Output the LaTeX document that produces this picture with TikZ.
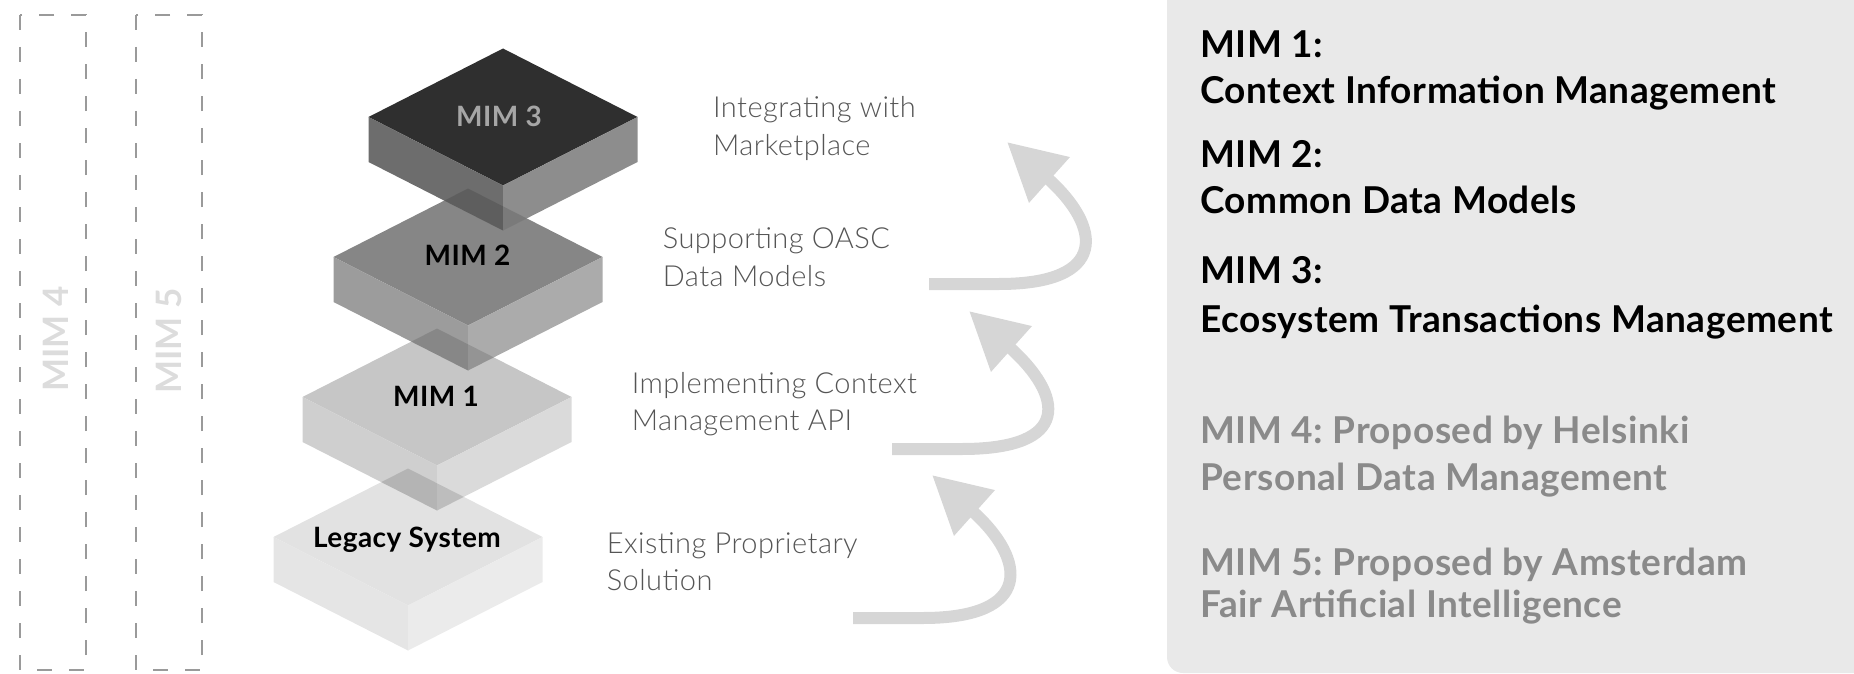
\documentclass[tikz,border=0pt]{standalone}
\usepackage{fontspec}
\setmainfont{Lato}
\newfontfamily\lightfont{Lato Light}[LetterSpace=1.5]
\newfontfamily\widefont{Lato}[LetterSpace=1.5]
\usetikzlibrary{arrows.meta,calc}
\definecolor{panelgray}{HTML}{E9E9E9}
\definecolor{dashgray}{HTML}{9A9A9A}
\definecolor{ghost}{HTML}{DCDCDC}
\definecolor{arrgray}{HTML}{D6D6D6}
\definecolor{lighttext}{HTML}{555555}
\definecolor{proposed}{HTML}{8A8A8A}
\definecolor{mthreetop}{HTML}{2F2F2F}
\definecolor{mthreeleft}{HTML}{6D6D6D}
\definecolor{mthreeright}{HTML}{8D8D8D}
\definecolor{mtwotop}{HTML}{868686}
\definecolor{mtwoleft}{HTML}{9C9C9C}
\definecolor{mtworight}{HTML}{ABABAB}
\definecolor{monetop}{HTML}{C6C6C6}
\definecolor{moneleft}{HTML}{CFCFCF}
\definecolor{moneright}{HTML}{DADADA}
\definecolor{legtop}{HTML}{E2E2E2}
\definecolor{legleft}{HTML}{E5E5E5}
\definecolor{legright}{HTML}{EBEBEB}
\newcommand{\slabfaces}[5]{%
  \fill[#3] (#1,#2-68.5) -- (#1+134.5,#2) -- (#1,#2+68.5) -- (#1-134.5,#2) -- cycle;
  \fill[#4] (#1-134.5,#2) -- (#1,#2+68.5) -- (#1,#2+113.5) -- (#1-134.5,#2+45) -- cycle;
  \fill[#5] (#1,#2+68.5) -- (#1+134.5,#2) -- (#1+134.5,#2+45) -- (#1,#2+113.5) -- cycle;
}
% darken the part of the lower top face seen through the upper slab's sides
\newcommand{\slabshadow}[4]{%
  \begin{scope}
    \clip (#1-134.5,#2) -- (#1,#2+68.5) -- (#1+134.5,#2) -- (#1+134.5,#2+45) -- (#1,#2+113.5) -- (#1-134.5,#2+45) -- cycle;
    \fill[black,opacity=.13] (#3,#4-68.5) -- (#3+134.5,#4) -- (#3,#4+68.5) -- (#3-134.5,#4) -- cycle;
  \end{scope}
}
\frenchspacing
\begin{document}
\begin{tikzpicture}[x=1pt,y=-1pt,
  dashbox/.style={draw=dashgray,line width=2.7pt,dash pattern=on 15pt off 17pt},
  ghostlbl/.style={font=\bfseries\fontsize{35}{42}\selectfont,text=ghost,rotate=90,inner sep=0},
  slablbl/.style={font=\widefont\bfseries\fontsize{28}{34}\selectfont,anchor=base,inner sep=0},
  steplbl/.style={font=\lightfont\fontsize{29}{35}\selectfont,text=lighttext,anchor=base west,inner sep=0},
  panlbl/.style={font=\widefont\bfseries\fontsize{37}{44}\selectfont,anchor=base west,inner sep=0},
  proplbl/.style={panlbl,text=proposed},
  arr/.style={draw=arrgray,line width=12pt,-{Triangle[length=57pt,width=58pt]}}
]
\useasboundingbox (0,0) rectangle (1854,674);
% right panel
\fill[panelgray,rounded corners=16pt] (1167,-30) rectangle (1884,673);
% dashed boxes
\draw[dashbox] (20,15) rectangle (86,670);
\draw[dashbox] (136,15) rectangle (202,670);
\node[ghostlbl] (g4) at (55.5,339) {MIM 4};
\node[ghostlbl] (g5) at (169,341) {MIM 5};
% slabs
\slabfaces{408}{537}{legtop}{legleft}{legright}
\slabfaces{437}{397}{monetop}{moneleft}{moneright}
\slabshadow{437}{397}{408}{537}
\slabfaces{468}{257}{mtwotop}{mtwoleft}{mtworight}
\slabshadow{468}{257}{437}{397}
\slabfaces{503}{117}{mthreetop}{mthreeleft}{mthreeright}
\slabshadow{503}{117}{468}{257}
\node[slablbl,text=black!35] (m3) at (499,126.7) {MIM 3};
\node[slablbl] (m2) at (467.5,265) {MIM 2};
\node[slablbl] (m1) at (436,406.7) {MIM 1};
\node[slablbl] (leg) at (407,547.3) {Legacy System};
% step texts
\node[steplbl] (s3a) at (713,117.3) {Integrating with};
\node[steplbl] (s3b) at (713,155) {Marketplace};
\node[steplbl] (s2a) at (662.7,248.3) {Supporting OASC};
\node[steplbl] (s2b) at (662.7,286.7) {Data Models};
\node[steplbl] (s1a) at (631.7,393.3) {Implementing Context};
\node[steplbl] (s1b) at (631.7,430.7) {Management API};
\node[steplbl] (s0a) at (606.7,553.3) {Existing Proprietary};
\node[steplbl] (s0b) at (606.7,590.7) {Solution};
% arrows
\coordinate (t1) at (929,284); \coordinate (h1) at (1007,142);
\coordinate (t2) at (892,449); \coordinate (h2) at (969,311);
\coordinate (t3) at (853,618); \coordinate (h3) at (932,475);
\draw[arr] (t1) -- ++(70,0) .. controls +(110,0) and +(95,85) .. (h1);
\draw[arr] (t2) -- ++(70,0) .. controls +(110,0) and +(95,85) .. (h2);
\draw[arr] (t3) -- ++(70,0) .. controls +(110,0) and +(95,85) .. (h3);
% panel texts
\node[panlbl] (p1a) at (1200,58) {MIM 1:};
\node[panlbl] (p1b) at (1200,103) {Context Information Management};
\node[panlbl] (p2a) at (1200,167) {MIM 2:};
\node[panlbl] (p2b) at (1200,213) {Common Data Models};
\node[panlbl] (p3a) at (1200,283) {MIM 3:};
\node[panlbl] (p3b) at (1200,332) {Ecosystem Transactions Management};
\node[proplbl] (p4a) at (1200,443) {MIM 4: Proposed by Helsinki};
\node[proplbl] (p4b) at (1200,490) {Personal Data Management};
\node[proplbl] (p5a) at (1200,575) {MIM 5: Proposed by Amsterdam};
\node[proplbl] (p5b) at (1200,617) {Fair Artificial Intelligence};
\end{tikzpicture}
\end{document}
